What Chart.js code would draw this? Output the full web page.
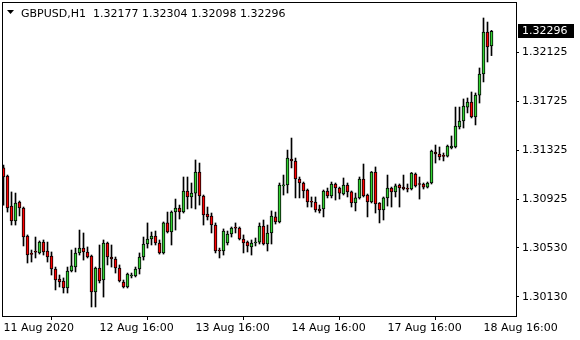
<!DOCTYPE html>
<html>
<head>
<meta charset="utf-8">
<script src="https://cdn.jsdelivr.net/npm/chart.js@4.4.1/dist/chart.umd.min.js"></script>
<style>
  html, body { margin: 0; padding: 0; background: #fff; }
  canvas { display: block; }
</style>
</head>
<body>
<canvas id="chart" width="580" height="340"></canvas>
<script>
// Chart data (GBPUSD H1)
const symbolName = 'GBPUSD,H1';

const openPrices = [
  1.31181, 1.31115, 1.30870, 1.30748, 1.30903, 1.30854, 1.30625, 1.30478, 1.30495, 1.30487,
  1.30576, 1.30503, 1.30462, 1.30356, 1.30274, 1.30258, 1.30201, 1.30340, 1.30372, 1.30487,
  1.30527, 1.30495, 1.30462, 1.30168, 1.30364, 1.30266, 1.30568, 1.30454, 1.30438, 1.30364,
  1.30250, 1.30209, 1.30299, 1.30299, 1.30356, 1.30454, 1.30560, 1.30601, 1.30625, 1.30568,
  1.30487, 1.30732, 1.30658, 1.30821, 1.30854, 1.30821, 1.30993, 1.30944, 1.30976, 1.31148,
  1.30952, 1.30805, 1.30789, 1.30715, 1.30511, 1.30503, 1.30568, 1.30642, 1.30691, 1.30691,
  1.30601, 1.30576, 1.30536, 1.30568, 1.30576, 1.30707, 1.30560, 1.30650, 1.30781, 1.30740,
  1.31034, 1.31042, 1.31254, 1.31238, 1.31091, 1.31058, 1.31001, 1.30903, 1.30903, 1.30846,
  1.30846, 1.30993, 1.30952, 1.31050, 1.31017, 1.30968, 1.31042, 1.30985, 1.30895, 1.30936,
  1.31091, 1.30960, 1.30903, 1.31148, 1.30895, 1.30838, 1.30936, 1.31017, 1.30985, 1.31042,
  1.31025, 1.31009, 1.31009, 1.31131, 1.31050, 1.31050, 1.31025, 1.31058, 1.31311, 1.31295,
  1.31278, 1.31278, 1.31344, 1.31352, 1.31515, 1.31564, 1.31678, 1.31719, 1.31597, 1.31776,
  1.31948, 1.32291, 1.32177
];
const highPrices = [
  1.31205, 1.31123, 1.30985, 1.30976, 1.30911, 1.30862, 1.30634, 1.30511, 1.30617, 1.30585,
  1.30593, 1.30576, 1.30495, 1.30372, 1.30307, 1.30283, 1.30372, 1.30511, 1.30527, 1.30674,
  1.30650, 1.30536, 1.30470, 1.30372, 1.30552, 1.30593, 1.30576, 1.30552, 1.30454, 1.30389,
  1.30266, 1.30323, 1.30323, 1.30372, 1.30487, 1.30617, 1.30732, 1.30658, 1.30666, 1.30593,
  1.30740, 1.30821, 1.30830, 1.30927, 1.30878, 1.31107, 1.31107, 1.31058, 1.31246, 1.31221,
  1.30960, 1.30862, 1.30813, 1.30732, 1.30527, 1.30683, 1.30666, 1.30699, 1.30732, 1.30699,
  1.30634, 1.30585, 1.30593, 1.30609, 1.30732, 1.30756, 1.30715, 1.30830, 1.30821, 1.31058,
  1.31123, 1.31327, 1.31425, 1.31262, 1.31107, 1.31066, 1.31009, 1.30944, 1.30944, 1.30878,
  1.31001, 1.31017, 1.31066, 1.31058, 1.31025, 1.31099, 1.31058, 1.30993, 1.30976, 1.31107,
  1.31213, 1.30968, 1.31152, 1.31189, 1.30898, 1.30944, 1.31123, 1.31025, 1.31050, 1.31050,
  1.31123, 1.31050, 1.31144, 1.31140, 1.31107, 1.31058, 1.31066, 1.31327, 1.31368, 1.31352,
  1.31303, 1.31368, 1.31442, 1.31678, 1.31678, 1.31744, 1.31752, 1.31801, 1.31793, 1.31997,
  1.32405, 1.32372, 1.32304
];
const lowPrices = [
  1.30878, 1.30821, 1.30715, 1.30715, 1.30789, 1.30544, 1.30405, 1.30413, 1.30446, 1.30478,
  1.30470, 1.30413, 1.30307, 1.30185, 1.30209, 1.30160, 1.30160, 1.30332, 1.30332, 1.30470,
  1.30429, 1.30446, 1.30046, 1.30046, 1.30242, 1.30127, 1.30389, 1.30372, 1.30323, 1.30250,
  1.30201, 1.30201, 1.30283, 1.30291, 1.30315, 1.30429, 1.30527, 1.30552, 1.30552, 1.30478,
  1.30478, 1.30650, 1.30552, 1.30674, 1.30764, 1.30813, 1.30846, 1.30854, 1.30846, 1.30878,
  1.30715, 1.30756, 1.30650, 1.30487, 1.30446, 1.30470, 1.30552, 1.30617, 1.30650, 1.30593,
  1.30487, 1.30495, 1.30470, 1.30544, 1.30560, 1.30552, 1.30503, 1.30560, 1.30723, 1.30732,
  1.30960, 1.30976, 1.31181, 1.30936, 1.30936, 1.30936, 1.30862, 1.30862, 1.30821, 1.30813,
  1.30781, 1.30936, 1.30936, 1.30919, 1.30927, 1.30960, 1.30944, 1.30862, 1.30830, 1.30927,
  1.30944, 1.30781, 1.30895, 1.30813, 1.30732, 1.30756, 1.30870, 1.30862, 1.30944, 1.30862,
  1.31001, 1.30985, 1.31001, 1.31025, 1.30927, 1.31009, 1.31017, 1.31050, 1.31221, 1.31246,
  1.31238, 1.31270, 1.31336, 1.31344, 1.31499, 1.31507, 1.31630, 1.31589, 1.31532, 1.31711,
  1.31883, 1.32046, 1.32098
];
const closePrices = [
  1.31107, 1.30854, 1.30748, 1.30895, 1.30854, 1.30617, 1.30470, 1.30475, 1.30493, 1.30576,
  1.30495, 1.30454, 1.30356, 1.30266, 1.30250, 1.30201, 1.30340, 1.30381, 1.30487, 1.30527,
  1.30495, 1.30454, 1.30168, 1.30364, 1.30258, 1.30568, 1.30454, 1.30438, 1.30364, 1.30258,
  1.30209, 1.30315, 1.30307, 1.30356, 1.30454, 1.30560, 1.30601, 1.30625, 1.30568, 1.30487,
  1.30732, 1.30658, 1.30821, 1.30854, 1.30821, 1.30993, 1.30944, 1.30976, 1.31148, 1.30952,
  1.30797, 1.30781, 1.30715, 1.30503, 1.30503, 1.30666, 1.30642, 1.30691, 1.30689, 1.30601,
  1.30568, 1.30544, 1.30568, 1.30576, 1.30707, 1.30560, 1.30650, 1.30789, 1.30740, 1.31042,
  1.31040, 1.31262, 1.31238, 1.31091, 1.31058, 1.30993, 1.30903, 1.30901, 1.30838, 1.30830,
  1.30993, 1.30952, 1.31050, 1.31017, 1.30976, 1.31042, 1.30985, 1.30895, 1.30936, 1.31091,
  1.30952, 1.30903, 1.31148, 1.30887, 1.30838, 1.30936, 1.31017, 1.30985, 1.31034, 1.31017,
  1.31009, 1.31007, 1.31140, 1.31034, 1.31046, 1.31025, 1.31058, 1.31319, 1.31295, 1.31270,
  1.31276, 1.31360, 1.31360, 1.31523, 1.31564, 1.31687, 1.31719, 1.31597, 1.31776, 1.31948,
  1.32291, 1.32168, 1.32296
];

// price scale ticks (right side)
const priceTicks = [1.32125, 1.31725, 1.31325, 1.30925, 1.30530, 1.30130];

// time scale: bar index -> label
const timeTickBars = [0, 24, 48, 72, 96, 120];
const timeTickLabels = ['11 Aug 2020', '12 Aug 16:00', '13 Aug 16:00', '14 Aug 16:00', '17 Aug 16:00', '18 Aug 16:00'];

const bullColor = '#32d232';
const bearColor = '#ff0000';

const barIndex = openPrices.map((_, i) => i);
const lastBar = openPrices.length - 1;

// Build datasets
const bodyData = barIndex.map(i => ({ x: i, y: [openPrices[i], closePrices[i]] }));
const wickData = barIndex.map(i => ({ x: i, y: [lowPrices[i], highPrices[i]] }));
const bodyColors = barIndex.map(i => closePrices[i] >= openPrices[i] ? bullColor : bearColor);

Chart.defaults.font.family = 'DejaVu Sans';
Chart.defaults.font.size = 11;
Chart.defaults.color = '#000';

// frame, header text and current price marker
const terminalPlugin = {
  id: 'terminal',
  afterDraw(chart) {
    const ctx = chart.ctx;
    const area = chart.chartArea;
    const yScale = chart.scales.y;

    ctx.save();
    ctx.strokeStyle = '#000';
    ctx.lineWidth = 1;
    ctx.strokeRect(area.left - 0.5, area.top - 0.5, area.right - area.left + 1, area.bottom - area.top + 1);

    // header
    ctx.fillStyle = '#000';
    ctx.beginPath();
    ctx.moveTo(7, 10);
    ctx.lineTo(14, 10);
    ctx.lineTo(10.5, 14);
    ctx.closePath();
    ctx.fill();
    ctx.font = '11px "DejaVu Sans"';
    ctx.textBaseline = 'alphabetic';
    ctx.textAlign = 'left';
    const header = symbolName + '  ' + [openPrices[lastBar], highPrices[lastBar], lowPrices[lastBar], closePrices[lastBar]]
      .map(v => v.toFixed(5)).join(' ');
    ctx.fillText(header, 21, 17);

    // current price label
    const py = Math.round(yScale.getPixelForValue(closePrices[lastBar]));
    ctx.fillStyle = '#000';
    ctx.fillRect(area.right + 2, py - 7, 56, 14);
    ctx.fillStyle = '#fff';
    ctx.textBaseline = 'middle';
    ctx.fillText(closePrices[lastBar].toFixed(5), area.right + 6, py);
    ctx.restore();
  }
};

new Chart(document.getElementById('chart'), {
  type: 'bar',
  data: {
    datasets: [
      {
        label: 'body',
        data: bodyData,
        backgroundColor: bodyColors,
        borderColor: '#000',
        borderWidth: 1,
        borderSkipped: false,
        barThickness: 3,
        minBarLength: 1,
        grouped: false,
        order: 0
      },
      {
        label: 'wick',
        data: wickData,
        backgroundColor: '#000',
        borderWidth: 0,
        barThickness: 1,
        grouped: false,
        order: 1
      }
    ]
  },
  options: {
    responsive: false,
    animation: false,
    devicePixelRatio: 1,
    layout: { padding: { left: 3, top: 3, right: 0, bottom: 0 } },
    plugins: {
      legend: { display: false },
      tooltip: { enabled: false }
    },
    scales: {
      x: {
        type: 'linear',
        offset: false,
        min: -0.125,
        max: 128.125,
        border: { display: false },
        grid: { drawOnChartArea: false, tickLength: 4, color: '#000' },
        ticks: {
          align: 'start',
          autoSkip: false,
          maxRotation: 0,
          minRotation: 0,
          padding: 2,
          callback: (value) => timeTickLabels[timeTickBars.indexOf(value)]
        },
        afterBuildTicks: (scale) => { scale.ticks = timeTickBars.map(v => ({ value: v })); },
        afterFit: (scale) => {
          scale.height = 24;
          scale.paddingLeft = 0;
          scale.paddingRight = 0;
        }
      },
      y: {
        type: 'linear',
        position: 'right',
        min: 1.2997235,
        max: 1.3252745,
        border: { display: false },
        grid: { drawOnChartArea: false, tickLength: 3, color: '#000' },
        ticks: {
          padding: 3,
          callback: (value) => value.toFixed(5)
        },
        afterBuildTicks: (scale) => { scale.ticks = priceTicks.map(v => ({ value: v })); },
        afterFit: (scale) => {
          scale.width = 64;
          scale.paddingTop = 0;
          scale.paddingBottom = 0;
        }
      }
    }
  },
  plugins: [terminalPlugin]
});
</script>
</body>
</html>
